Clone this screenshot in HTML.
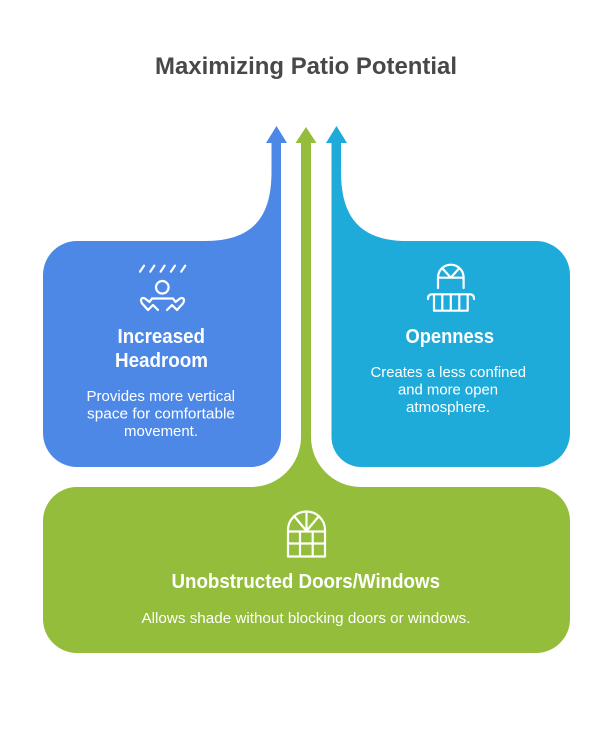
<!DOCTYPE html>
<html><head><meta charset="utf-8"><style>
html,body{margin:0;padding:0;background:#fff}
svg{display:block}
text{font-family:"Liberation Sans",Arial,sans-serif;text-anchor:start}
.h{font-weight:700;font-size:20px;fill:#fff}
.d{font-size:14.5px;fill:#fff}
.i{fill:none;stroke:#fff;stroke-width:2.2;stroke-linecap:round;stroke-linejoin:round}
</style></head><body>
<svg width="612" height="732" viewBox="0 0 612 732" xmlns="http://www.w3.org/2000/svg">
<rect width="612" height="732" fill="#fff"/>
<text x="155" y="74" font-size="24" font-weight="700" fill="#484848" textLength="302" lengthAdjust="spacingAndGlyphs">Maximizing Patio Potential</text>

<path d="M276.5 126L287 143H281V437A30 30 0 0 1 251 467H77A34 34 0 0 1 43 433V275A34 34 0 0 1 77 241H205C252 241 271.5 218 271.5 172V143H266Z" fill="#4e88e7"/>
<path d="M336.5 126L347 143H341V172C341 218 361 241 407 241H536A34 34 0 0 1 570 275V433A34 34 0 0 1 536 467H361.500A30 30 0 0 1 331.500 437V143H326Z" fill="#1eabda"/>
<path d="M306 127L316.500 143H311V437A50 50 0 0 0 361 487H536A34 34 0 0 1 570 521V619A34 34 0 0 1 536 653H77A34 34 0 0 1 43 619V521A34 34 0 0 1 77 487H251A50 50 0 0 0 301 437V143H295.500Z" fill="#93bd3a"/>

<!-- headroom icon -->
<g class="i">
<path d="M140 271.700L144 265.700M150.300 271.700L154.300 265.700M160.600 271.700L164.600 265.700M170.900 271.700L174.900 265.700M181.200 271.700L185.200 265.700"/>
<circle cx="162.300" cy="287.300" r="6.300"/>
<path d="M152 298.500H173L175.500 302L180 298.500Q183.500 297 184 300Q184 303 181 305.500L177 310L172 305L167 310"/>
<path d="M152 298.500L149.500 302L145 298.500Q141.500 297 141 300Q141 303 144 305.500L148 310L153 305L158 310"/>
</g>

<!-- balcony icon -->
<g class="i">
<path d="M438 288V277.500A12.800 12.800 0 0 1 463.600 277.500V288"/>
<path d="M438 277.700H463.600M443 269L450.800 277.700L458.500 269"/>
<path d="M428 299Q428 294.300 432 294.300H470Q474 294.300 474 299M434 294.300V310.700H467.700V294.300M442.300 295V310.700M450.800 295V310.700M459.300 295V310.700"/>
</g>

<!-- window icon -->
<g class="i">
<path d="M288 556.500V530A18.500 18.500 0 0 1 325 530V556.500Z"/>
<path d="M288 531.500H325M288 543.500H325M300 531.500V556.500M312.700 531.500V556.500"/>
<path d="M306.500 531V511.500M306.500 531L294 516M306.500 531L319 516"/>
</g>

<text class="h" x="117.500" y="343" textLength="87.500" lengthAdjust="spacingAndGlyphs">Increased</text>
<text class="h" x="115" y="367" textLength="93" lengthAdjust="spacingAndGlyphs">Headroom</text>
<text class="d" x="86.500" y="401" textLength="148.500" lengthAdjust="spacingAndGlyphs">Provides more vertical</text>
<text class="d" x="87" y="418.500" textLength="148" lengthAdjust="spacingAndGlyphs">space for comfortable</text>
<text class="d" x="124" y="436" textLength="74" lengthAdjust="spacingAndGlyphs">movement.</text>

<text class="h" x="405.500" y="343" textLength="88.500" lengthAdjust="spacingAndGlyphs">Openness</text>
<text class="d" x="370.500" y="377" textLength="155.500" lengthAdjust="spacingAndGlyphs">Creates a less confined</text>
<text class="d" x="398" y="394.500" textLength="100" lengthAdjust="spacingAndGlyphs">and more open</text>
<text class="d" x="406" y="412" textLength="84" lengthAdjust="spacingAndGlyphs">atmosphere.</text>

<text class="h" x="171.500" y="588" textLength="268.500" lengthAdjust="spacingAndGlyphs">Unobstructed Doors/Windows</text>
<text class="d" x="141.500" y="623" textLength="329" lengthAdjust="spacingAndGlyphs">Allows shade without blocking doors or windows.</text>
</svg>
</body></html>
